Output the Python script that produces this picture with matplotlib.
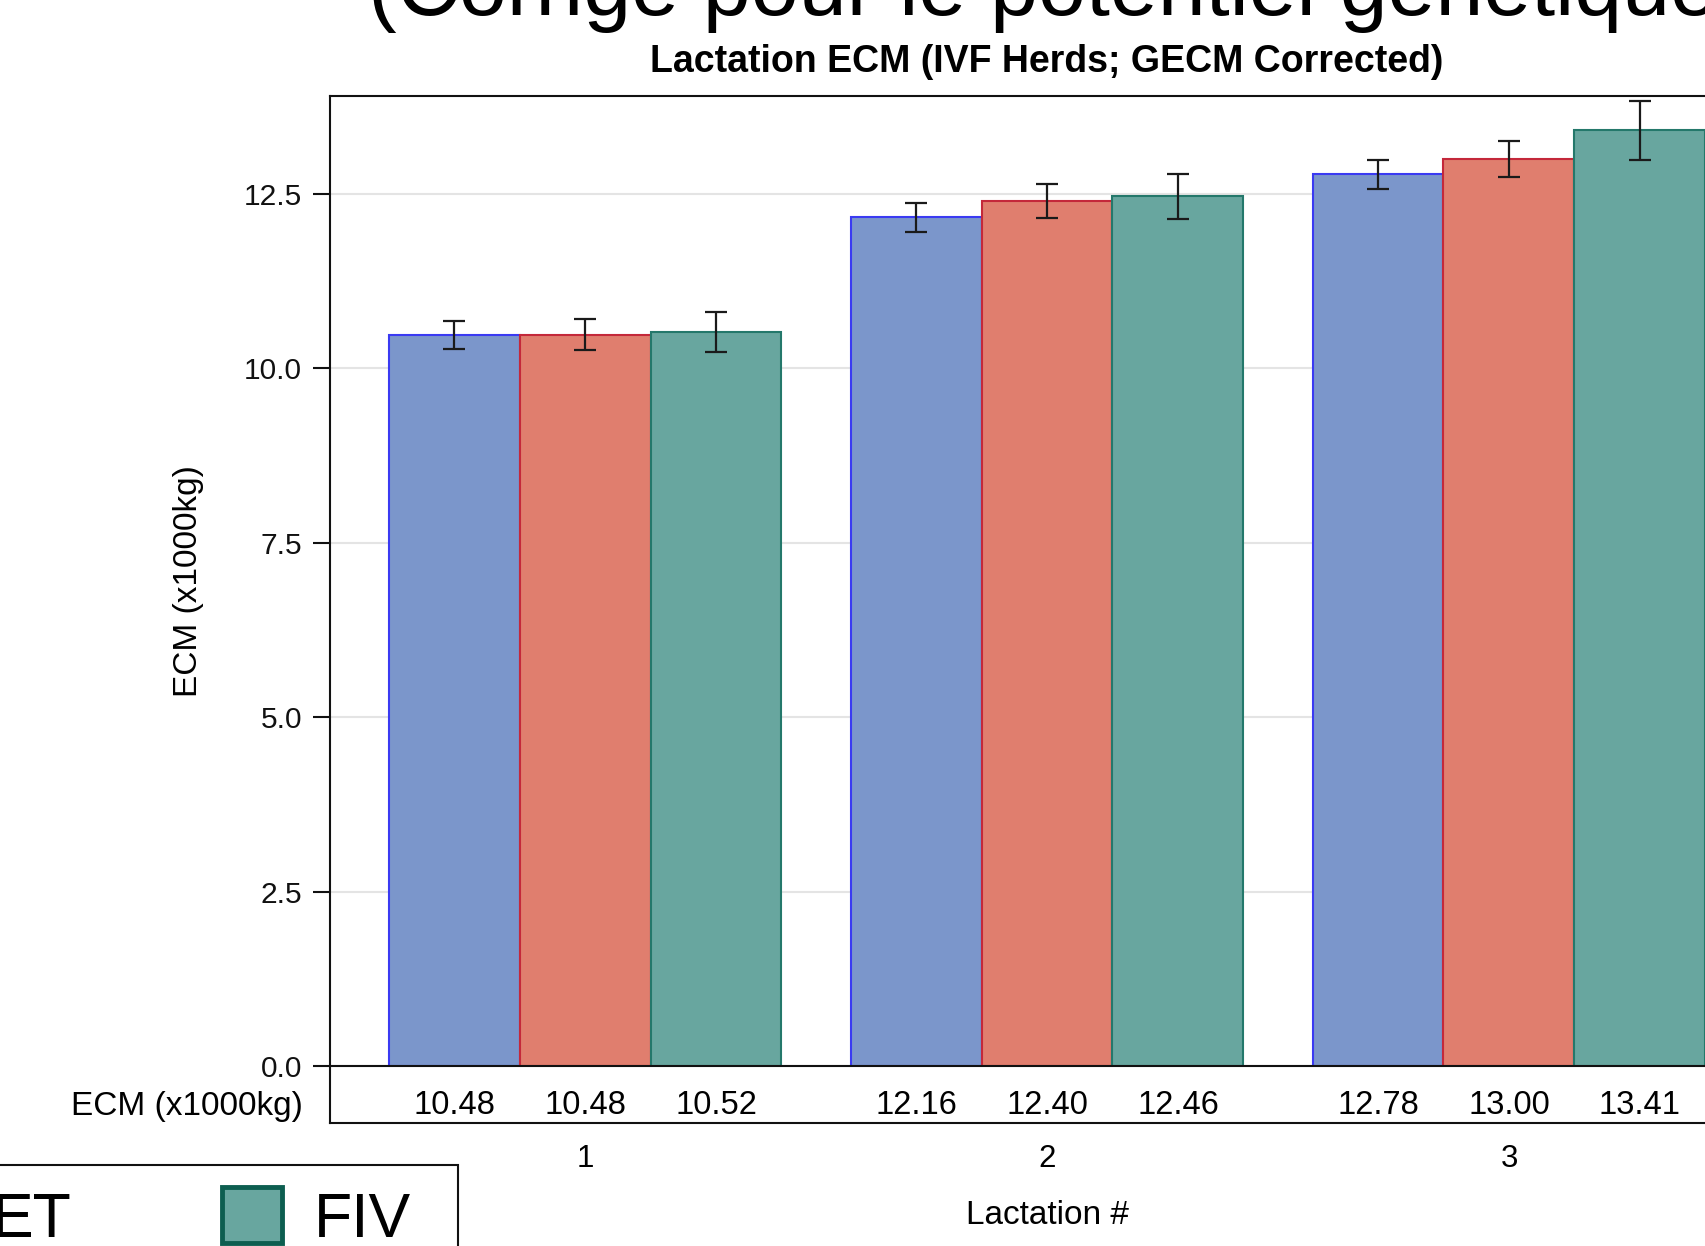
import matplotlib
matplotlib.use("Agg")
import matplotlib.pyplot as plt
import matplotlib.transforms as mtransforms
from matplotlib.patches import Rectangle
import numpy as np

plt.rcParams["font.family"] = ["Liberation Sans", "DejaVu Sans"]

FIG_W, FIG_H = 1705, 1246

# data
lactations = ["1", "2", "3"]
groups = ["IA", "ET", "FIV"]
ecm_ia = [10.48, 12.16, 12.78]
ecm_et = [10.48, 12.40, 13.00]
ecm_fiv = [10.52, 12.46, 13.41]
err_ia = [0.20, 0.21, 0.21]
err_et = [0.22, 0.245, 0.26]
err_fiv = [0.29, 0.32, 0.42]

title = "(Corrigé pour le potentiel génétique)"
subtitle = "Lactation ECM (IVF Herds; GECM Corrected)"
y_label = "ECM (x1000kg)"
x_label = "Lactation #"

fills = ["#7b96cb", "#e07e6e", "#68a69f"]
edges = ["#3a3af2", "#c4283a", "#24786b"]
legend_edges = ["#2a2ad0", "#a01f30", "#0d5e50"]

fig = plt.figure(figsize=(FIG_W / 100, FIG_H / 100), dpi=100)
ax = fig.add_axes([330 / FIG_W, 1 - 1066 / FIG_H, 1434 / FIG_W, 970 / FIG_H])

x = np.arange(len(lactations))
width = 0.2835
series = [(ecm_ia, err_ia), (ecm_et, err_et), (ecm_fiv, err_fiv)]
for i, (vals, errs) in enumerate(series):
    pos = x + (i - 1) * width
    ax.bar(pos, vals, width=width, color=fills[i], edgecolor=edges[i],
           linewidth=1.5, label=groups[i], zorder=2)
    ax.errorbar(pos, vals, yerr=errs, fmt="none", ecolor="#1a1a1a",
                elinewidth=1.6, capsize=8, capthick=1.6, zorder=3)

ax.set_xlim(-0.552, 2.552)
ax.set_ylim(0, 13.9)
ax.set_yticks(np.arange(0, 12.6, 2.5))
ax.set_yticklabels([f"{v:.1f}" for v in np.arange(0, 12.6, 2.5)])
ax.tick_params(axis="y", labelsize=21.5, length=12, width=1.5, pad=8,
               colors="#111111")
ax.set_xticks([])
ax.yaxis.grid(True, color="#e4e4e4", linewidth=1.5)
ax.set_axisbelow(True)
for sp in ax.spines.values():
    sp.set_linewidth(1.5)
    sp.set_color("#111111")

ax.set_title(subtitle, fontsize=27, fontweight="bold", pad=17)
# big title line, mostly cut off by the top edge in the reference
fig.text(1057 / FIG_W, 1 - 15 / FIG_H, title, ha="center", va="baseline",
         fontsize=62)

ax.text(-0.099, 0.5, y_label, transform=ax.transAxes, rotation=90,
        ha="center", va="center", fontsize=24)

# value table under the axis
tbl_bottom = -(1123 - 1066) / 970
ax.plot([0, 1], [tbl_bottom, tbl_bottom], transform=ax.transAxes,
        color="#111111", lw=1.5, clip_on=False)
ax.plot([0, 0], [0, tbl_bottom], transform=ax.transAxes,
        color="#111111", lw=1.5, clip_on=False)
blend = mtransforms.blended_transform_factory(ax.transData, ax.transAxes)
row_y = -(1106 - 1066) / 970
for i, (vals, _) in enumerate(series):
    for xi, v in zip(x + (i - 1) * width, vals):
        ax.text(xi, row_y, f"{v:.2f}", transform=blend, ha="center",
                va="center", fontsize=23.5)
ax.text(-0.0188, row_y, y_label, transform=ax.transAxes, ha="right",
        va="center", fontsize=24)

for xi, lab in zip(x, lactations):
    ax.text(xi, -(1159 - 1066) / 970, lab, transform=blend, ha="center",
            va="center", fontsize=22.5)
ax.text(1, -(1216 - 1066) / 970, x_label, transform=blend, ha="center",
        va="center", fontsize=24)

# legend box (cut by the figure edge, like the reference)
ov = fig.add_axes([0, 0, 1, 1])
ov.set_xlim(0, FIG_W)
ov.set_ylim(FIG_H, 0)
ov.axis("off")
ov.add_patch(Rectangle((-760, 1165), 1218, 200, facecolor="white",
                       edgecolor="#111111", linewidth=1.5, clip_on=False))
patch_x = [-420, -100, 222]
for i, lab in enumerate(groups):
    ov.add_patch(Rectangle((patch_x[i], 1187), 60, 56, facecolor=fills[i],
                           edgecolor=legend_edges[i], linewidth=3.5,
                           clip_on=False))
    ov.text(patch_x[i] + 92, 1237, lab, ha="left", va="baseline",
            fontsize=45)

fig.savefig("out.png", dpi=100)
